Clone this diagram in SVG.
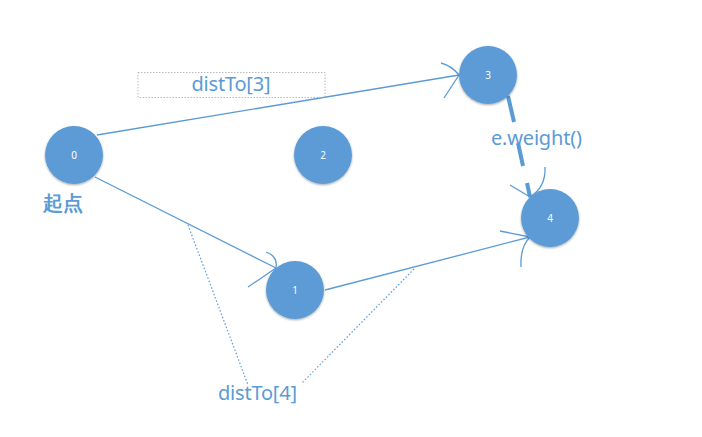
<svg xmlns="http://www.w3.org/2000/svg" width="702" height="437" viewBox="0 0 702 437">
<defs>
<filter id="sh" x="-30%" y="-30%" width="160%" height="160%">
<feGaussianBlur in="SourceAlpha" stdDeviation="1.2"/>
<feOffset dx="0" dy="1" result="b"/>
<feFlood flood-color="#000" flood-opacity="0.35"/>
<feComposite in2="b" operator="in"/>
<feMerge><feMergeNode/><feMergeNode in="SourceGraphic"/></feMerge>
</filter>
</defs>
<style>
.node{fill:#5b9bd5;filter:url(#sh)}
.nl{fill:#fff;font-family:"Noto Sans","DejaVu Sans",sans-serif;font-size:10px;text-anchor:middle}
.edge{stroke:#5b9bd5;stroke-width:1.3;fill:none}
.thick{stroke:#5b9bd5;stroke-width:4;fill:none}
.dot{stroke:#5b9bd5;stroke-width:1.2;stroke-dasharray:1.5 2;fill:none}
.lbl{fill:#5b9bd5;font-family:"Noto Sans","DejaVu Sans",sans-serif;font-size:20px}
</style>
<rect width="702" height="437" fill="#fff"/>
<g id="connectors">
<path class="edge" d="M97,135 L459,75"/>
<path class="edge" d="M441,63 Q452,66 459,75 M444,98 L459,75"/>
<path class="edge" d="M95,177 L276,268"/>
<path class="edge" d="M266,252 Q278,256 276,268 M248,287 L276,268"/>
<path class="edge" d="M325,290 L530,237"/>
<path class="edge" d="M500,231 L530,237 M521,267 Q520,247 530,237"/>
<path class="thick" d="M508,96 L514,122 M518,143 L523,166 M527,183 L530,197"/>
<path class="edge" d="M510,185 L530,197 M545,167 Q546,187 530,197"/>
<path class="dot" d="M188,225 L248,385"/>
<path class="dot" d="M414,269 L302,383"/>
</g>
<g id="node0"><circle class="node" cx="74" cy="155" r="29"/><text class="nl" x="74" y="159">0</text></g>
<g id="node1"><circle class="node" cx="295" cy="290" r="29"/><text class="nl" x="295" y="294">1</text></g>
<g id="node2"><circle class="node" cx="323" cy="155" r="29"/><text class="nl" x="323" y="159">2</text></g>
<g id="node3"><circle class="node" cx="488" cy="75" r="29"/><text class="nl" x="488" y="79">3</text></g>
<g id="node4"><circle class="node" cx="550" cy="218" r="29"/><text class="nl" x="550" y="222">4</text></g>
<g id="labels">
<rect x="138" y="72.5" width="187" height="25" fill="none" stroke="#aaa" stroke-width="0.8" stroke-dasharray="1.5 1.5"/>
<text class="lbl" x="231" y="91" text-anchor="middle" textLength="79">distTo[3]</text>
<text class="lbl" x="43" y="210" font-family="'Noto Sans CJK SC',sans-serif" font-size="22" font-weight="bold">起点</text>
<text class="lbl" x="491" y="145" textLength="91">e.weight()</text>
<text class="lbl" x="218" y="400" textLength="79">distTo[4]</text>
</g>
</svg>
